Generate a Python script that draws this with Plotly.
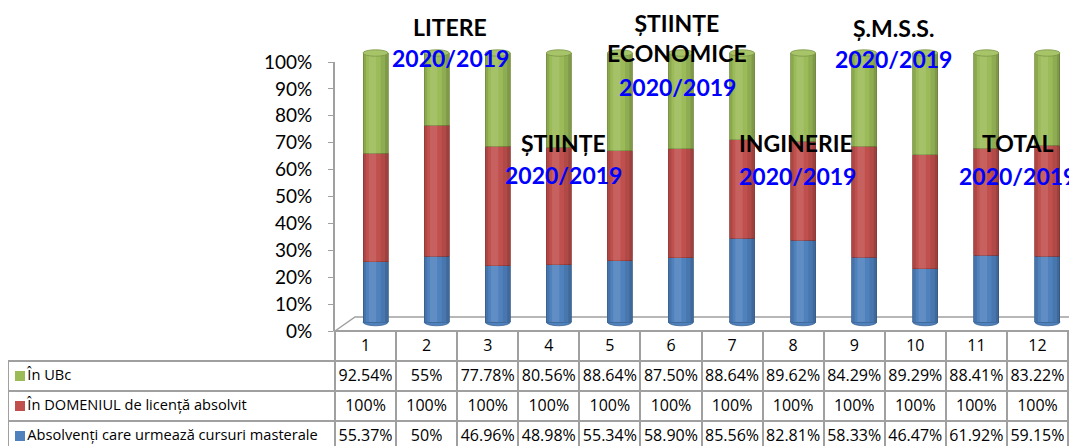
import plotly.graph_objects as go

# ---------------- data ----------------
columns = ["1", "2", "3", "4", "5", "6", "7", "8", "9", "10", "11", "12"]
series_names = ["Absolvenți care urmează cursuri masterale",
                "În DOMENIUL de licență absolvit",
                "În UBc"]
masterale = [55.37, 50, 46.96, 48.98, 55.34, 58.90, 85.56, 82.81, 58.33, 46.47, 61.92, 59.15]
domeniu = [100, 100, 100, 100, 100, 100, 100, 100, 100, 100, 100, 100]
ubc = [92.54, 55, 77.78, 80.56, 88.64, 87.50, 88.64, 89.62, 84.29, 89.29, 88.41, 83.22]
masterale_txt = ["55.37%", "50%", "46.96%", "48.98%", "55.34%", "58.90%", "85.56%",
                 "82.81%", "58.33%", "46.47%", "61.92%", "59.15%"]
domeniu_txt = ["100%"] * 12
ubc_txt = ["92.54%", "55%", "77.78%", "80.56%", "88.64%", "87.50%", "88.64%",
           "89.62%", "84.29%", "89.29%", "88.41%", "83.22%"]
group_titles = ["LITERE", "ȘTIINȚE", "ȘTIINȚE<br>ECONOMICE", "INGINERIE", "Ș.M.S.S.", "TOTAL"]
period_label = "2020/2019"

# ---------------- style / geometry ----------------
C_BLUE, C_RED, C_GREEN = "#4F81BD", "#C0504D", "#9BBB59"
C_BLUE_D, C_RED_D, C_GREEN_D = "#3C6596", "#9B3D3A", "#7A9645"
GRID = "#A0A0A0"
FONT = "Lato"
TFONT = "Open Sans"

OFF = 8                     # page body margin
FW, FH = 1077 - OFF, 447 - OFF


def fx(x):
    return (x - OFF) / FW


def fy(y):
    return 1 - (y - OFF) / FH


AX_L, AX_R = 335, 1068      # plot / table numeric area (screen px)
AX_B, AX_T = 331, 62        # 0% and 100% on the visible axis
unit = AX_B - AX_T          # px for 100 %
col_w = (AX_R - AX_L) / len(columns)
shift_x = 10 / col_w        # 3-D depth offset of the cylinders (right)
DY = 9                      # 3-D depth offset of the cylinders (up)
EXT = 0.05                  # extra range so caps are not clipped

fig = go.Figure()

xs = list(range(1, len(columns) + 1))
for vals, col, dcol, name in [(masterale, C_BLUE, C_BLUE_D, series_names[0]),
                              (domeniu, C_RED, C_RED_D, series_names[1]),
                              (ubc, C_GREEN, C_GREEN_D, series_names[2])]:
    fig.add_trace(go.Bar(x=xs, y=vals, name=name, xaxis="x2", yaxis="y2",
                         marker=dict(color=col, line=dict(color=dcol, width=0.8)),
                         showlegend=False, hoverinfo="skip"))

# invisible anchor trace for the visible percentage axis
fig.add_trace(go.Scatter(x=[1], y=[0], mode="markers", marker=dict(opacity=0),
                         showlegend=False, hoverinfo="skip"))

bw = 0.41
shapes = []
# 3D floor
shapes.append(dict(type="path", xref="paper", yref="paper",
                   path=f"M {fx(AX_L)} {fy(AX_B)} L {fx(355)} {fy(317)} L {fx(1095)} {fy(317)} "
                        f"L {fx(AX_R)} {fy(AX_B)} Z",
                   fillcolor="white", line=dict(color=GRID, width=1.5), layer="below"))
for x in xs:
    # rounded bottom of the cylinder
    shapes.append(dict(type="circle", xref="x2", yref="y2", x0=x - bw / 2, x1=x + bw / 2,
                       y0=-0.014, y1=0.014, fillcolor=C_BLUE, line=dict(color=C_BLUE_D, width=0.8),
                       layer="below"))
    # cylinder shading
    shapes.append(dict(type="rect", xref="x2", yref="y2", x0=x - bw / 2, x1=x - bw / 2 + 0.05,
                       y0=0, y1=1, fillcolor="rgba(0,0,0,0.10)", line=dict(width=0), layer="above"))
    shapes.append(dict(type="rect", xref="x2", yref="y2", x0=x - 0.11, x1=x + 0.01,
                       y0=0, y1=1, fillcolor="rgba(255,255,255,0.10)", line=dict(width=0), layer="above"))
    shapes.append(dict(type="rect", xref="x2", yref="y2", x0=x + bw / 2 - 0.12, x1=x + bw / 2 - 0.05,
                       y0=0, y1=1, fillcolor="rgba(0,0,0,0.08)", line=dict(width=0), layer="above"))
    shapes.append(dict(type="rect", xref="x2", yref="y2", x0=x + bw / 2 - 0.05, x1=x + bw / 2,
                       y0=0, y1=1, fillcolor="rgba(0,0,0,0.18)", line=dict(width=0), layer="above"))
    # top cap
    shapes.append(dict(type="circle", xref="x2", yref="y2", x0=x - bw / 2, x1=x + bw / 2,
                       y0=1 - 0.012, y1=1 + 0.012, fillcolor="#A8C468",
                       line=dict(color=C_GREEN_D, width=0.8), layer="above"))

# legend swatches in the table's label column (green / red / blue rows)
for c, yc in zip([C_GREEN, C_RED, C_BLUE], [376, 406, 436]):
    shapes.append(dict(type="rect", xref="paper", yref="paper", x0=fx(15), x1=fx(25),
                       y0=fy(yc + 5), y1=fy(yc - 5), fillcolor=c, line=dict(width=0),
                       layer="above"))
fig.update_layout(shapes=shapes)

# data table under the chart (non-breaking spaces keep row heights fixed)
nb = "\u00a0"
pad = nb * 3
labels = [pad + s.replace(" ", nb) for s in (series_names[2], series_names[1], series_names[0])]
n = len(columns)
fig.add_trace(go.Table(
    domain=dict(x=[fx(8), fx(AX_R)], y=[0, fy(AX_B)]),
    columnwidth=[AX_L - 8] + [col_w] * n,
    header=dict(values=[""] + columns, height=30, align="center",
                fill=dict(color=["rgba(0,0,0,0)"] + ["white"] * n),
                line=dict(color=["rgba(0,0,0,0)"] + [GRID] * n, width=2),
                font=dict(family=TFONT, size=16, color="black")),
    cells=dict(values=[labels] +
                      [[u, d, m] for u, d, m in zip(ubc_txt, domeniu_txt, masterale_txt)],
               height=30, align=["left"] + ["center"] * n,
               fill=dict(color="white"), line=dict(color=GRID, width=2),
               font=dict(family=TFONT, size=[14.6] + [16] * n, color="black"))
))

ann = []
# category titles
title_pos = [(450, 27), (563, 143), (677, 38), (796, 143), (893, 28), (1017, 143)]
period_pos = [(450, 58), (563, 175), (677, 87), (797, 176), (893, 59), (1017, 176)]
for t, (x, y) in zip(group_titles, title_pos):
    ann.append(dict(text=f"<b>{t}</b>", x=fx(x), y=fy(y), xref="paper", yref="paper",
                    showarrow=False, xanchor="center", yanchor="middle",
                    font=dict(family=FONT, size=23, color="black")))
for x, y in period_pos:
    ann.append(dict(text=f"<b>{period_label}</b>", x=fx(x), y=fy(y), xref="paper", yref="paper",
                    showarrow=False, xanchor="center", yanchor="middle",
                    font=dict(family=FONT, size=23, color="#0000FF")))

# cylinder subplot: same scale as the visible axis, shifted up by DY px
y2_bot = AX_B - DY + EXT * unit
y2_top = AX_T - DY - EXT * unit

fig.update_layout(
    template="none",
    width=FW, height=FH, autosize=False,
    margin=dict(l=0, r=0, t=0, b=0, pad=0, autoexpand=False),
    paper_bgcolor="white", plot_bgcolor="rgba(0,0,0,0)",
    barmode="stack", barnorm="fraction", bargap=1 - bw,
    annotations=ann,
    font=dict(family=FONT),
    showlegend=False,
    xaxis=dict(domain=[fx(AX_L), fx(AX_R)], range=[0.5, 12.5], visible=False),
    yaxis=dict(domain=[fy(AX_B), fy(AX_T)], range=[0, 1], tickformat=".0%", dtick=0.1,
               showgrid=False, zeroline=False, showline=True, linecolor=GRID, linewidth=2,
               ticks="outside", ticklen=5, tickcolor=GRID, ticklabelstandoff=12,
               automargin=False,
               tickfont=dict(family=FONT, size=19, color="black"), anchor="x"),
    xaxis2=dict(domain=[fx(AX_L), fx(AX_R)], range=[0.5 - shift_x, 12.5 - shift_x],
                visible=False, anchor="y2"),
    yaxis2=dict(domain=[fy(y2_bot), fy(y2_top)], range=[-EXT, 1 + EXT],
                visible=False, anchor="x2"),
)

fig.write_html("out.html")
